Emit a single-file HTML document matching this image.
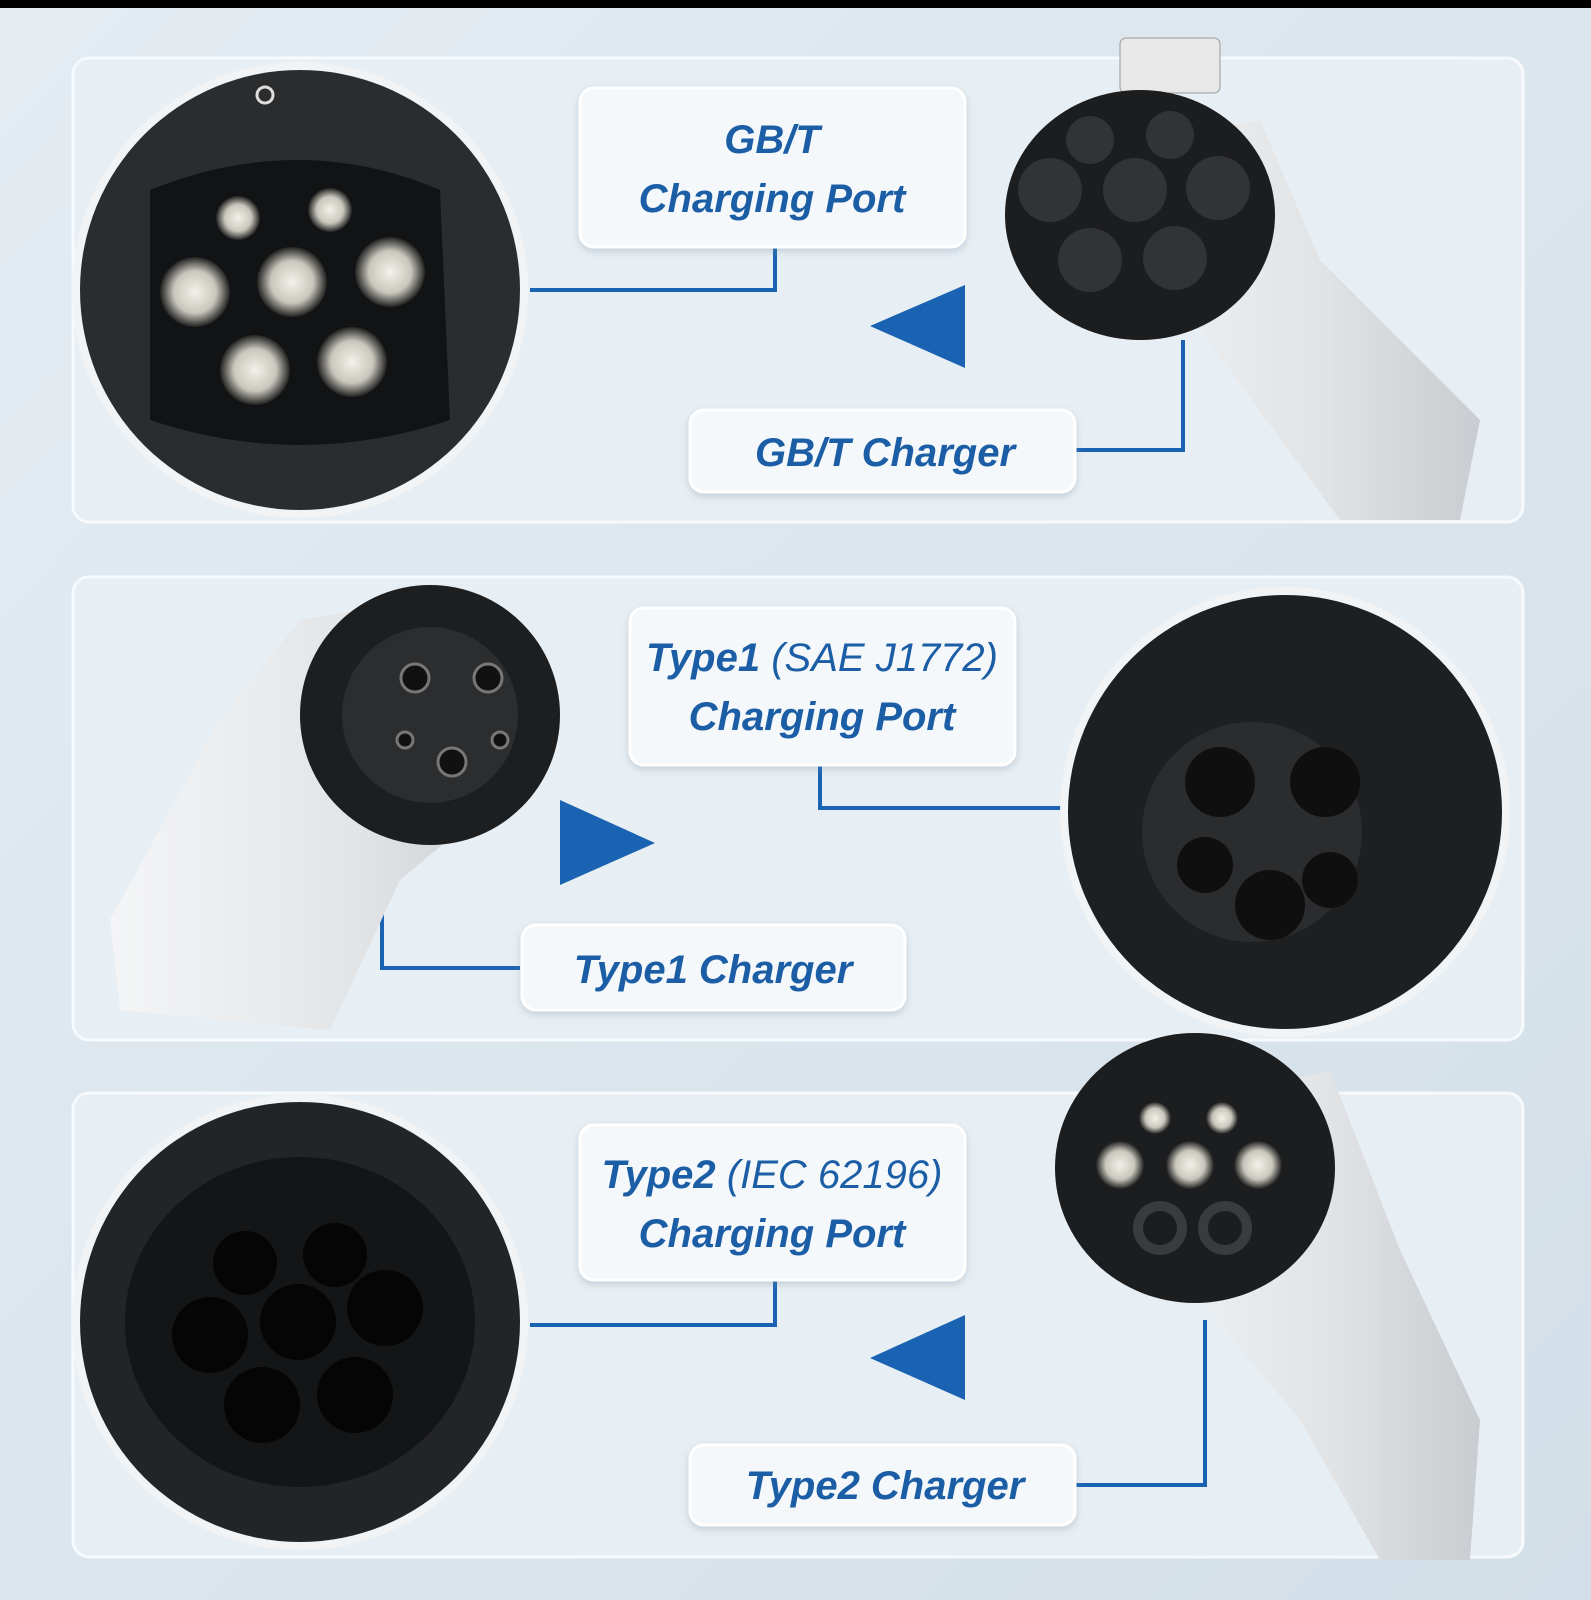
<!DOCTYPE html>
<html><head><meta charset="utf-8"><style>
html,body{margin:0;padding:0;background:#dde7ee;}
svg{display:block}
text{font-family:"Liberation Sans",sans-serif;font-weight:bold;font-style:italic;fill:#1c5ea6;}
</style></head><body>
<svg width="1591" height="1600" viewBox="0 0 1591 1600" xmlns="http://www.w3.org/2000/svg">
<defs>
<linearGradient id="bg" x1="0" y1="0" x2="1" y2="1"><stop offset="0" stop-color="#e4ecf2"/><stop offset="1" stop-color="#d3dfe8"/></linearGradient>
<linearGradient id="wh" x1="0" y1="0" x2="1" y2="0"><stop offset="0" stop-color="#f4f5f6"/><stop offset="0.6" stop-color="#e2e4e6"/><stop offset="1" stop-color="#c9ccd0"/></linearGradient>
<radialGradient id="pin"><stop offset="0" stop-color="#f2f2ea"/><stop offset="0.6" stop-color="#c9c7bd"/><stop offset="1" stop-color="#222"/></radialGradient>
<filter id="sh"><feDropShadow dx="0" dy="3" stdDeviation="4" flood-color="#7a8ea0" flood-opacity="0.35"/></filter>
</defs>
<rect width="1591" height="1600" fill="url(#bg)"/>
<rect width="1591" height="8" fill="#000"/>
<g fill="#e8eff4" stroke="#f7fafc" stroke-width="3">
<rect x="73" y="58" width="1450" height="464" rx="16"/>
<rect x="73" y="577" width="1450" height="463" rx="16"/>
<rect x="73" y="1093" width="1450" height="464" rx="16"/>
</g>
<g stroke="#1a63b3" stroke-width="4" fill="none">
<polyline points="775,247 775,290 530,290"/>
<polyline points="1075,450 1183,450 1183,340"/>
<polyline points="820,765 820,808 1070,808"/>
<polyline points="520,968 382,968 382,857"/>
<polyline points="775,1280 775,1325 530,1325"/>
<polyline points="1075,1485 1205,1485 1205,1320"/>
</g>
<g fill="#1a63b3">
<polygon points="870,326 965,285 965,368"/>
<polygon points="655,843 560,800 560,885"/>
<polygon points="870,1358 965,1315 965,1400"/>
</g>
<circle cx="300" cy="290" r="228" fill="#f1f3f5"/>
<circle cx="300" cy="290" r="220" fill="#2b2c2e"/>
<path d="M150 190 Q300 130 440 190 L450 420 Q300 470 150 420 Z" fill="#121314"/>
<circle cx="265" cy="95" r="8" fill="none" stroke="#ddd" stroke-width="3"/>
<g fill="url(#pin)"><circle cx="238" cy="218" r="22"/><circle cx="330" cy="210" r="22"/><circle cx="195" cy="292" r="35"/><circle cx="292" cy="282" r="35"/><circle cx="390" cy="272" r="35"/><circle cx="255" cy="370" r="35"/><circle cx="352" cy="362" r="35"/></g>
<path d="M1060 160 L1260 120 L1320 260 L1480 420 L1460 520 L1340 520 L1200 330 Z" fill="url(#wh)"/>
<rect x="1120" y="38" width="100" height="55" rx="6" fill="#e8e8e8" stroke="#999"/>
<ellipse cx="1140" cy="215" rx="135" ry="125" fill="#1c1d1f"/>
<g fill="#323335"><circle cx="1090" cy="140" r="24"/><circle cx="1170" cy="135" r="24"/><circle cx="1050" cy="190" r="32"/><circle cx="1135" cy="190" r="32"/><circle cx="1218" cy="188" r="32"/><circle cx="1090" cy="260" r="32"/><circle cx="1175" cy="258" r="32"/></g>
<path d="M300 620 L420 600 L520 780 L400 880 L330 1030 L120 1010 L110 920 L220 720 Z" fill="url(#wh)"/>
<ellipse cx="430" cy="715" rx="130" ry="130" fill="#1d1e20"/>
<circle cx="430" cy="715" r="88" fill="#2c2d2f"/>
<g fill="#111" stroke="#777" stroke-width="3"><circle cx="415" cy="678" r="14"/><circle cx="488" cy="678" r="14"/><circle cx="452" cy="762" r="14"/><circle cx="405" cy="740" r="8"/><circle cx="500" cy="740" r="8"/></g>
<circle cx="1285" cy="812" r="225" fill="#f1f3f5"/>
<circle cx="1285" cy="812" r="217" fill="#1e1f21"/>
<circle cx="1252" cy="832" r="110" fill="#2b2c2e"/>
<g fill="#0f0f10"><circle cx="1220" cy="782" r="35"/><circle cx="1325" cy="782" r="35"/><circle cx="1205" cy="865" r="28"/><circle cx="1330" cy="880" r="28"/><circle cx="1270" cy="905" r="35"/></g>
<circle cx="300" cy="1322" r="228" fill="#f1f3f5"/>
<circle cx="300" cy="1322" r="220" fill="#232426"/>
<ellipse cx="300" cy="1322" rx="175" ry="165" fill="#141516"/>
<g fill="#050505"><circle cx="245" cy="1263" r="32"/><circle cx="335" cy="1255" r="32"/><circle cx="210" cy="1335" r="38"/><circle cx="298" cy="1322" r="38"/><circle cx="385" cy="1308" r="38"/><circle cx="262" cy="1405" r="38"/><circle cx="355" cy="1395" r="38"/></g>
<path d="M1090 1130 L1330 1070 L1400 1250 L1480 1420 L1470 1560 L1380 1560 L1300 1420 L1200 1300 Z" fill="url(#wh)"/>
<ellipse cx="1195" cy="1168" rx="140" ry="135" fill="#1c1d1f"/>
<g fill="url(#pin)"><circle cx="1155" cy="1118" r="16"/><circle cx="1222" cy="1118" r="16"/><circle cx="1120" cy="1165" r="24"/><circle cx="1190" cy="1165" r="24"/><circle cx="1258" cy="1165" r="24"/></g>
<g fill="#1c1d1f" stroke="#3a3b3d" stroke-width="10"><circle cx="1160" cy="1228" r="22"/><circle cx="1225" cy="1228" r="22"/></g>
<g fill="#f5f8fa" stroke="#fff" stroke-width="3" filter="url(#sh)">
<rect x="580" y="88" width="385" height="159" rx="14"/>
<rect x="690" y="410" width="385" height="82" rx="14"/>
<rect x="630" y="608" width="385" height="157" rx="14"/>
<rect x="522" y="925" width="383" height="85" rx="14"/>
<rect x="580" y="1125" width="385" height="155" rx="14"/>
<rect x="690" y="1445" width="385" height="80" rx="14"/>
</g>
<g font-size="40" text-anchor="middle">
<text x="772" y="153">GB/T</text>
<text x="772" y="212">Charging Port</text>
<text x="885" y="466">GB/T Charger</text>
<text x="822" y="671">Type1 <tspan font-weight="normal">(SAE J1772)</tspan></text>
<text x="822" y="730">Charging Port</text>
<text x="713" y="983">Type1 Charger</text>
<text x="772" y="1188">Type2 <tspan font-weight="normal">(IEC 62196)</tspan></text>
<text x="772" y="1247">Charging Port</text>
<text x="885" y="1499">Type2 Charger</text>
</g>
</svg>
</body></html>
